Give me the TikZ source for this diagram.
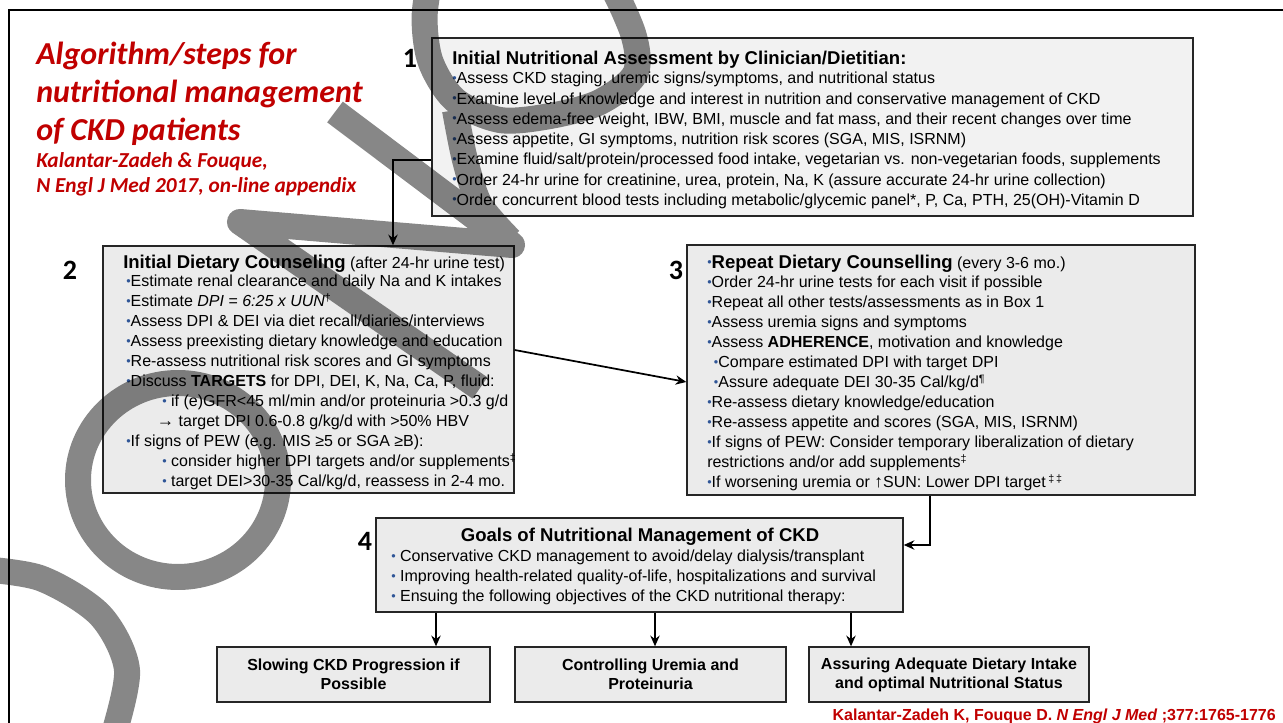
\documentclass[tikz,border=0pt]{standalone}
\usepackage{fontspec}
\setmainfont{Liberation Sans}
\newfontfamily\calfont{Carlito}
\usetikzlibrary{arrows.meta,fit,positioning}

\definecolor{ckdred}{HTML}{C00000}
\definecolor{ckdblue}{HTML}{2F5597}
\definecolor{boxgray}{HTML}{EBEBEB}
\definecolor{boxlight}{HTML}{F2F2F2}

\newcommand{\bul}{{\color{ckdblue}\raisebox{1.2pt}{\fontsize{9.5}{9.5}\selectfont •}}}
\newcommand{\hd}{\fontsize{13.9}{15}\selectfont\bfseries}

\tikzset{
  panel/.style={draw=black!85, line width=1pt, fill=boxgray, inner sep=0pt},
  bodytext/.style={anchor=north west, align=left, inner sep=0pt, font=\fontsize{12}{15}\selectfont},
  headtext/.style={anchor=base west, inner sep=0pt, font=\fontsize{12}{15}\selectfont},
  goaltext/.style={align=center, inner sep=0pt, font=\fontsize{12}{14.25}\selectfont\bfseries},
  stepno/.style={inner sep=0pt, font=\calfont\fontsize{21}{21}\selectfont\bfseries},
  conn/.style={line width=1.5pt, -{Stealth[length=8pt,width=7pt]}},
  scrawl/.style={line width=19.5pt, line join=round},
}

\begin{document}
\begin{tikzpicture}[x=0.75pt, y=-0.75pt]
  \useasboundingbox (0,0) rectangle (1283,723);
  % frame
  \draw[line width=2pt] (9,723) -- (9,10) -- (1283,10);

  % title
  \node[anchor=north west, align=left, inner sep=0pt, text=ckdred,
        font=\calfont\fontsize{24}{28.5}\selectfont\bfseries\itshape] (title) at (36,42)
        {Algorithm/steps for\\nutritional management\\of CKD patients};
  \node[anchor=north west, align=left, inner sep=0pt, text=ckdred,
        font=\calfont\fontsize{16}{18.75}\selectfont\bfseries\itshape] (source) at (36,152)
        {Kalantar-Zadeh \& Fouque,\\N Engl J Med 2017, on-line appendix};

  % boxes
  \node[panel, fill=boxlight, fit={(432,38) (1193,216)}] (box1) {};
  \node[panel, fit={(103,246) (514,493)}] (box2) {};
  \node[panel, fit={(687,245) (1195,495)}] (box3) {};
  \node[panel, fit={(376,518) (903,612)}] (box4) {};
  \node[panel, fit={(217,647) (490,702)}] (goal1) {};
  \node[panel, fit={(515,647) (786,702)}] (goal2) {};
  \node[panel, fit={(809,647) (1089,702)}] (goal3) {};

  % step numbers
  \node[stepno] (num1) at (410,58) {1};
  \node[stepno] (num2) at (70,270) {2};
  \node[stepno] (num3) at (676,270) {3};
  \node[stepno] (num4) at (365,541) {4};

  % box 1
  \node[headtext, font=\hd] (head1) at (452,64.6) {Initial Nutritional Assessment by Clinician/Dietitian:};
  \node[bodytext, font=\fontsize{12}{15.2}\selectfont] (text1) at (452,72) {%
    \bul Assess CKD staging, uremic signs/symptoms, and nutritional status\\
    \bul Examine level of knowledge and interest in nutrition and conservative management of CKD\\
    \bul Assess edema-free weight, IBW, BMI, muscle and fat mass, and their recent changes over time\\
    \bul Assess appetite, GI symptoms, nutrition risk scores (SGA, MIS, ISRNM)\\
    \bul Examine fluid/salt/protein/processed food intake, vegetarian vs. non-vegetarian foods, supplements\\
    \bul Order 24-hr urine for creatinine, urea, protein, Na, K (assure accurate 24-hr urine collection)\\
    \bul Order concurrent blood tests including metabolic/glycemic panel*, P, Ca, PTH, 25(OH)-Vitamin D};

  % box 2
  \node[headtext] (head2) at (123,268.6) {{\hd Initial Dietary Counseling} (after 24-hr urine test)};
  \node[bodytext] (text2) at (126,275) {%
    \bul Estimate renal clearance and daily Na and K intakes\\
    \bul Estimate \textit{DPI = 6:25 x UUN}\textsuperscript{†}\\
    \bul Assess DPI \& DEI via diet recall/diaries/interviews\\
    \bul Assess preexisting dietary knowledge and education\\
    \bul Re-assess nutritional risk scores and GI symptoms\\
    \bul Discuss \textbf{TARGETS} for DPI, DEI, K, Na, Ca, P, fluid:\\
    \hspace*{27pt}\bul\ if (e)GFR<45 ml/min and/or proteinuria >0.3 g/d\\
    \hspace*{23pt}{\fontsize{13}{15}\selectfont →} target DPI 0.6-0.8 g/kg/d with >50\% HBV\\
    \bul If signs of PEW (e.g. MIS ≥5 or SGA ≥B):\\
    \hspace*{27pt}\bul\ consider higher DPI targets and/or supplements\textsuperscript{‡}\\
    \hspace*{27pt}\bul\ target DEI>30-35 Cal/kg/d, reassess in 2-4 mo.};

  % box 3
  \node[headtext] (head3) at (707,268.6) {\bul{\hd Repeat Dietary Counselling} (every 3-6 mo.)};
  \node[bodytext] (text3) at (707,276) {%
    \bul Order 24-hr urine tests for each visit if possible\\
    \bul Repeat all other tests/assessments as in Box 1\\
    \bul Assess uremia signs and symptoms\\
    \bul Assess \textbf{ADHERENCE}, motivation and knowledge\\
    \hspace*{5pt}\bul Compare estimated DPI with target DPI\\
    \hspace*{5pt}\bul Assure adequate DEI 30-35 Cal/kg/d\textsuperscript{¶}\\
    \bul Re-assess dietary knowledge/education\\
    \bul Re-assess appetite and scores (SGA, MIS, ISRNM)\\
    \bul If signs of PEW: Consider temporary liberalization of dietary\\
    restrictions and/or add supplements\textsuperscript{‡}\\
    \bul If worsening uremia or {\fontsize{13}{15}\selectfont ↑}SUN: Lower DPI target\,\textsuperscript{‡\,‡}};

  % box 4
  \node[anchor=base, inner sep=0pt, font=\hd] (head4) at (640,541.6) {Goals of Nutritional Management of CKD};
  \node[bodytext] (text4) at (391,550) {%
    \bul\ Conservative CKD management to avoid/delay dialysis/transplant\\
    \bul\ Improving health-related quality-of-life, hospitalizations and survival\\
    \bul\ Ensuing the following objectives of the CKD nutritional therapy:};

  % goals
  \node[goaltext] (goaltext1) at (goal1) {Slowing CKD Progression if\\Possible};
  \node[goaltext] (goaltext2) at (goal2) {Controlling Uremia and\\Proteinuria};
  \node[goaltext] (goaltext3) at (goal3) {Assuring Adequate Dietary Intake\\and optimal Nutritional Status};

  \node[anchor=base east, inner sep=0pt, text=ckdred, font=\fontsize{12}{14}\selectfont\bfseries] (cite) at (1276,720)
    {Kalantar-Zadeh K, Fouque D. \textit{N Engl J Med} ;377:1765-1776};

  % connectors
  \coordinate (elbow) at (393,160);
  \draw[conn] (box1.west |- elbow) -- (elbow) -- (elbow |- box2.north);
  \draw[conn, line width=1.3pt] (box2.east |- 0,350) -- (box3.west |- 0,382);
  \coordinate (bend) at (930,545);
  \draw[conn, line width=2pt] (box3.south -| bend) -- (bend) -- (box4.east |- bend);
  \foreach \gx/\gn in {436/goal1, 655/goal2, 851/goal3}
    \draw[conn] (box4.south -| \gx,0) -- (\gn.north -| \gx,0);

  % scrawl over the slide
  \begin{scope}
    \clip (0,0) rectangle (1283,723);
    \begin{scope}[transparency group, opacity=0.47]
      \draw[scrawl] plot[smooth cycle] coordinates {(425,10) (430,60) (455,100) (500,120) (550,116) (600,102) (636,72) (630,25) (590,-40) (500,-60) (440,-35)};
      \draw[scrawl] plot[smooth] coordinates {(455,110) (465,160) (480,205) (510,240)};
      \draw[scrawl] (335,112) -- (512,245) -- (240,222) -- (480,388);
      \draw[scrawl] (178,480) ellipse[x radius=100, y radius=97];
      \draw[scrawl] plot[smooth] coordinates {(-30,568) (40,578) (100,615) (127,670) (112,740)};
    \end{scope}
  \end{scope}
\end{tikzpicture}
\end{document}
